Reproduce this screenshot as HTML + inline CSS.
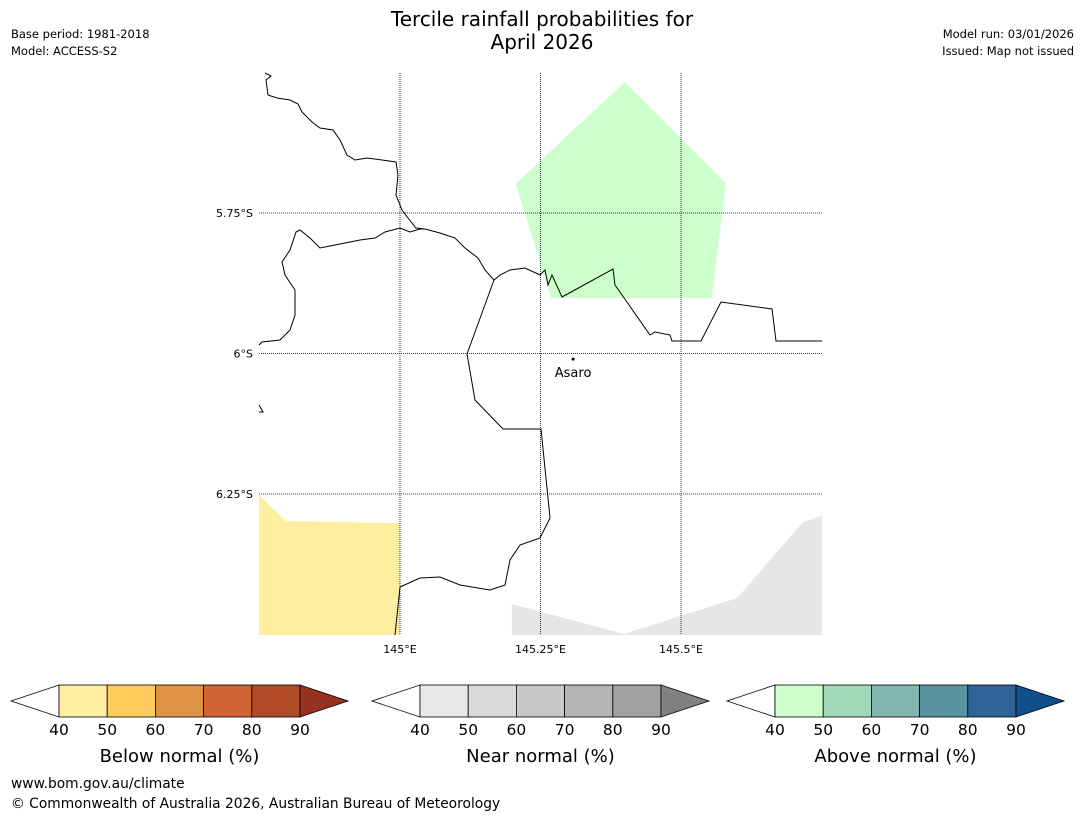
<!DOCTYPE html>
<html><head><meta charset="utf-8">
<style>
body{margin:0;background:#fff;font-family:"DejaVu Sans","Liberation Sans",sans-serif;}
#wrap{position:relative;width:1085px;height:816px;overflow:hidden;}
</style></head>
<body>
<div id="wrap">
<svg id="svg" width="1085" height="816" xmlns="http://www.w3.org/2000/svg" font-family="DejaVu Sans, Liberation Sans, sans-serif">
<text x="542" y="26" font-size="20" text-anchor="middle">Tercile rainfall probabilities for</text>
<text x="542" y="49" font-size="20" text-anchor="middle">April 2026</text>
<text x="11" y="38" font-size="11.5">Base period: 1981-2018</text>
<text x="11" y="55" font-size="11.5">Model: ACCESS-S2</text>
<text x="1074" y="38" font-size="11.5" text-anchor="end">Model run: 03/01/2026</text>
<text x="1074" y="55" font-size="11.5" text-anchor="end">Issued: Map not issued</text>
<g id="map"></g>
<g id="bars"></g>
<text x="11" y="788" font-size="13.8">www.bom.gov.au/climate</text>
<text x="11" y="808" font-size="13.8">© Commonwealth of Australia 2026, Australian Bureau of Meteorology</text>
</svg>
</div>
<script>
const lonTicks=[145,145.25,145.5];
const lonLabels=["145°E","145.25°E","145.5°E"];
const latTicks=[-5.75,-6,-6.25];
const latLabels=["5.75°S","6°S","6.25°S"];
const aboveLon=[145.400,145.580,145.555,145.269,145.206];
const aboveLat=[-5.517,-5.698,-5.901,-5.901,-5.698];
const belowLon=[144.749,144.797,145.0,145.0,144.749];
const belowLat=[-6.252,-6.298,-6.302,-6.501,-6.501];
const nearLon=[145.199,145.399,145.600,145.717,145.751,145.751,145.199];
const nearLat=[-6.446,-6.499,-6.435,-6.300,-6.289,-6.501,-6.501];
const townLon=[145.308];const townLat=[-6.010];const townNames=["Asaro"];
const barTicks=[40,50,60,70,80,90];
const belowColors=["#ffeda0","#fecc5c","#e09244","#cf6432","#b14a27","#963220"];
const nearColors=["#e8e8e8","#d9d9d9","#c8c8c8","#b4b4b4","#a0a0a0","#808080"];
const aboveColors=["#ccffcc","#a2d8b8","#80b5b0","#5a92a0","#2f6398","#124e8c"];
const barTitles=["Below normal (%)","Near normal (%)","Above normal (%)"];

const X0=259,X1=822,Y0=73,Y1=635;
const xs=lon=>400+(lon-145)*562;
const ys=lat=>213+(-5.75-lat)*562;
const NS="http://www.w3.org/2000/svg";
function mk(t,a,p){const e=document.createElementNS(NS,t);for(const k in a)e.setAttribute(k,a[k]);p.appendChild(e);return e;}
const map=document.getElementById('map');
function poly(lons,lats,fill,name){const pts=lons.map((l,i)=>xs(l)+','+ys(lats[i])).join(' ');
 const e=mk('polygon',{points:pts,fill:fill},map);
 
 }
poly(aboveLon,aboveLat,'#ccffcc','above-normal-region');
poly(belowLon,belowLat,'#ffeda0','below-normal-region');
poly(nearLon,nearLat,'#e6e6e6','near-normal-region');
const coast=["M265,73 L271,76 L266,80 L268,95 L277,98 L290,100 L298,104 L302,112 L312,122 L320,128 L333,130 L340,140 L347,155 L355,160 L367,158 L382,160 L396,162 L398,175 L396,195 L402,210 L408,218 L416,228 L425,229 L440,233 L455,238 L465,248 L478,258 L485,270 L494,280 L500,275 L510,270 L525,268 L540,275 L545,270 L548,285 L552,275 L562,297 L613,269 L615,285 L622,295 L650,335 L655,332 L670,335 L672,341 L701,341 L721,302 L772,309 L776,341 L822,341",
"M494,280 L467,354 L475,400 L503,429 L541,429 L550,518 L540,538 L520,545 L510,560 L505,585 L490,590 L460,585 L440,577 L420,578 L400,587 L395,635",
"M259,345 L262,342 L280,340 L290,330 L295,315 L295,290 L285,275 L282,262 L290,250 L296,232 L300,230 L310,238 L320,248 L335,245 L350,242 L360,240 L375,238 L385,232 L400,228 L410,232 L420,229 L425,229",
"M259,405 L263,412 L259,412"];
coast.forEach((d,i)=>{const e=mk('path',{d:d,fill:'none',stroke:'#000','stroke-width':1},map);
 
 });
lonTicks.forEach((v,i)=>{const x=xs(v);
 const l=mk('line',{x1:x,x2:x,y1:Y0,y2:Y1,stroke:'#000','stroke-width':0.8,'stroke-dasharray':'1,1'},map);
 
 
 const t=mk('text',{x:x,y:653,'font-size':11,'text-anchor':'middle'},map);t.textContent=lonLabels[i];
 
 });
latTicks.forEach((v,i)=>{const y=ys(v);
 const l=mk('line',{x1:X0,x2:X1,y1:y,y2:y,stroke:'#000','stroke-width':0.8,'stroke-dasharray':'1,1'},map);
 
 
 const t=mk('text',{x:253,y:y+4,'font-size':11,'text-anchor':'end'},map);t.textContent=latLabels[i];
 
 });
townNames.forEach((n,i)=>{const x=xs(townLon[i]),y=ys(townLat[i]);
 const c=mk('circle',{cx:x,cy:y,r:1.5,fill:'#000'},map);
 
 
 const t=mk('text',{x:x,y:y+18,'font-size':13,'text-anchor':'middle'},map);t.textContent=n;
 
 });
const bars=document.getElementById('bars');
const starts=[59,420,775];const sets=[belowColors,nearColors,aboveColors];
starts.forEach((x0,b)=>{const w=48.2,yT=685,yB=717,ym=701;const cols=sets[b];const xe=x0+5*w;
 const lt=mk('polygon',{points:`${x0-48},${ym} ${x0},${yT} ${x0},${yB}`,fill:'#fff',stroke:'#000','stroke-width':0.8},bars);
 
 
 for(let i=0;i<5;i++){const r=mk('rect',{x:x0+i*w,y:yT,width:w,height:yB-yT,fill:cols[i],stroke:'#000','stroke-width':0.8},bars);
  
  }
 const rt=mk('polygon',{points:`${xe},${yT} ${xe+48},${ym} ${xe},${yB}`,fill:cols[5],stroke:'#000','stroke-width':0.8},bars);
 
 
 barTicks.forEach((v,i)=>{const t=mk('text',{x:x0+i*w,y:735,'font-size':15.5,'text-anchor':'middle'},bars);t.textContent=v;
  
  });
 const t=mk('text',{x:x0+2.5*w,y:762,'font-size':18,'text-anchor':'middle'},bars);t.textContent=barTitles[b];
 
 
});
</script>
</body></html>
